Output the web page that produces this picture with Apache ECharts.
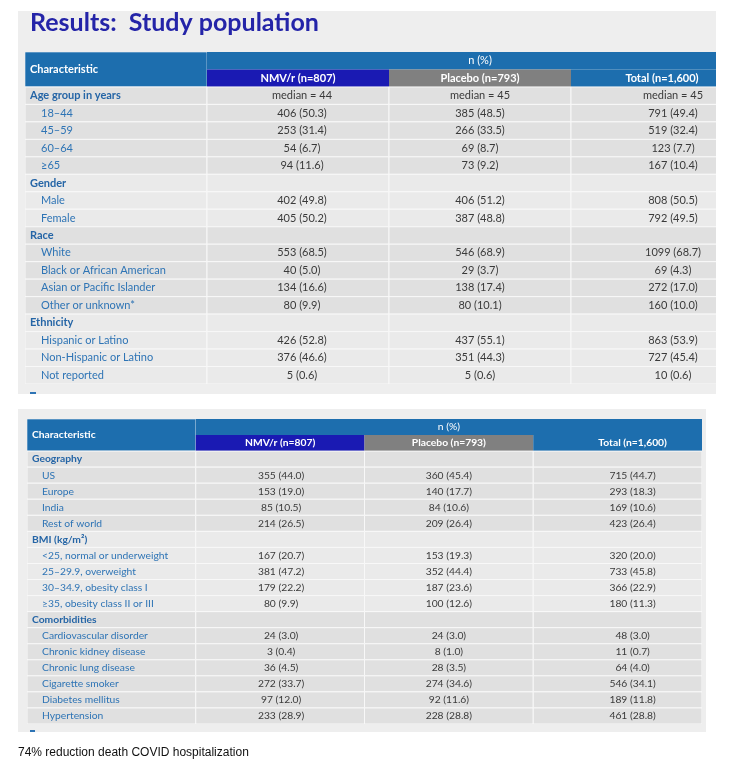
<!DOCTYPE html>
<html><head><meta charset="utf-8">
<script src="https://cdn.jsdelivr.net/npm/echarts@6/dist/echarts.min.js"></script>
<style>html,body{margin:0;padding:0;background:#fff}#c{width:729px;height:767px}</style>
</head><body><div id="c"></div><script>
// ---------- data ----------
const columnHeaders = ['NMV/r (n=807)', 'Placebo (n=793)', 'Total (n=1,600)'];
const groupHeader = 'n (%)';
const firstHeader = 'Characteristic';

const rows1 = ['Age group in years','18–44','45–59','60–64','≥65','Gender','Male','Female','Race','White','Black or African American','Asian or Pacific Islander','Other or unknown*','Ethnicity','Hispanic or Latino','Non-Hispanic or Latino','Not reported'];
const sections1 = ['Age group in years','Gender','Race','Ethnicity'];
const medianAge = [44, 45, 45];
const nmvN1 = [null,406,253,54,94,null,402,405,null,553,40,134,80,null,426,376,5];
const nmvP1 = [null,50.3,31.4,6.7,11.6,null,49.8,50.2,null,68.5,5.0,16.6,9.9,null,52.8,46.6,0.6];
const plaN1 = [null,385,266,69,73,null,406,387,null,546,29,138,80,null,437,351,5];
const plaP1 = [null,48.5,33.5,8.7,9.2,null,51.2,48.8,null,68.9,3.7,17.4,10.1,null,55.1,44.3,0.6];
const totN1 = [null,791,519,123,167,null,808,792,null,1099,69,272,160,null,863,727,10];
const totP1 = [null,49.4,32.4,7.7,10.4,null,50.5,49.5,null,68.7,4.3,17.0,10.0,null,53.9,45.4,0.6];

const rows2 = ['Geography','US','Europe','India','Rest of world','BMI (kg/m²)','<25, normal or underweight','25–29.9, overweight','30–34.9, obesity class I','≥35, obesity class II or III','Comorbidities','Cardiovascular disorder','Chronic kidney disease','Chronic lung disease','Cigarette smoker','Diabetes mellitus','Hypertension'];
const sections2 = ['Geography','BMI (kg/m²)','Comorbidities'];
const nmvN2 = [null,355,153,85,214,null,167,381,179,80,null,24,3,36,272,97,233];
const nmvP2 = [null,44.0,19.0,10.5,26.5,null,20.7,47.2,22.2,9.9,null,3.0,0.4,4.5,33.7,12.0,28.9];
const plaN2 = [null,360,140,84,209,null,153,352,187,100,null,24,8,28,274,92,228];
const plaP2 = [null,45.4,17.7,10.6,26.4,null,19.3,44.4,23.6,12.6,null,3.0,1.0,3.5,34.6,11.6,28.8];
const totN2 = [null,715,293,169,423,null,320,733,366,180,null,48,11,64,546,189,461];
const totP2 = [null,44.7,18.3,10.6,26.4,null,20.0,45.8,22.9,11.3,null,3.0,0.7,4.0,34.1,11.8,28.8];

const titleText = 'Results:  Study population';
const footerText = '74% reduction death COVID hospitalization';

// ---------- styles ----------
const HBLUE = '#1d6eae', DBLUE = '#1a1ab3', GRAY = '#808080';
const SHADES = ['#e0e0e0', '#eaeaea'];
const FONT = 'Lato';

function fmt(n, p) { return n == null ? '' : n + ' (' + p.toFixed(1) + ')'; }

function buildCells(rows, sections, cols, opt) {
  const cells = [];
  cells.push({c:0, r:0, cs:1, rs:2, fill:HBLUE, stroke:'rgba(255,255,255,0.55)', text:firstHeader, align:'left', dx:opt.lx, bold:true, color:'#fff', size:opt.fs});
  cells.push({c:1, r:0, cs:3, rs:1, fill:HBLUE, text:groupHeader, align:'center', bold:false, color:'#fff', size:opt.fs});
  const hf = [DBLUE, GRAY, HBLUE];
  columnHeaders.forEach((h, k) => cells.push({c:k+1, r:1, cs:1, rs:1, fill:hf[k], text:h, align:'center', bold:true, color:'#fff', size:opt.fs, tdx: k===2 ? opt.totHdx : 0}));
  let sec = -1;
  rows.forEach((lab, i) => {
    const isSec = sections.indexOf(lab) >= 0;
    if (isSec) sec++;
    const fill = SHADES[sec % 2];
    const r = i + 2;
    cells.push({c:0, r, cs:1, rs:1, fill, stroke:'#f8f8f8', text:lab, align:'left', dx: isSec ? opt.lx : opt.sx, bold:isSec, color: isSec ? '#2565a6' : '#2e74b5', size:opt.fs});
    cols.forEach((col, k) => {
      let t = fmt(col[0][i], col[1][i]);
      if (i === 0 && opt.median) t = 'median = ' + opt.median[k];
      cells.push({c:k+1, r, cs:1, rs:1, fill, stroke:'#f8f8f8', text:t, align:'center', color:'#3a3a3a', size:opt.fs, tdx: k===2 ? opt.totDx : (k===0 ? opt.nmvDx : 0)});
    });
  });
  return cells;
}

const cells1 = buildCells(rows1, sections1, [[nmvN1,nmvP1],[plaN1,plaP1],[totN1,totP1]], {lx:5, sx:16, fs:11, median:medianAge, totHdx:0, totDx:11, nmvDx:4});
const cells2 = buildCells(rows2, sections2, [[nmvN2,nmvP2],[plaN2,plaP2],[totN2,totP2]], {lx:5, sx:15, fs:10.3, totHdx:15, totDx:15, nmvDx:1});

function makeRender(cells) {
  return function (params, api) {
    const cell = cells[params.dataIndex];
    const p = api.coord([api.value(0), api.value(1)]);
    const sz = api.size([1, 1]);
    const x = p[0], y = p[1] - sz[1] / 2;
    const w = cell.cs * sz[0], h = cell.rs * sz[1];
    const children = [{
      type: 'rect', shape: {x, y, width: w, height: h},
      style: {fill: cell.fill, stroke: cell.stroke || null, lineWidth: cell.stroke ? 1 : 0}
    }];
    if (cell.text) {
      children.push({
        type: 'text',
        style: {
          text: cell.text,
          x: cell.align === 'left' ? x + cell.dx : x + w / 2 + (cell.tdx || 0),
          y: y + h / 2,
          align: cell.align, verticalAlign: 'middle',
          fill: cell.color,
          font: (cell.bold ? 'bold ' : '') + cell.size + 'px ' + FONT
        }
      });
    }
    return {type: 'group', children};
  };
}

const cats1 = ['hdr-a', 'hdr-b'].concat(rows1);
const cats2 = ['hdr-a', 'hdr-b'].concat(rows2);

const chart = echarts.init(document.getElementById('c'), null, {renderer: 'canvas'});
chart.setOption({
  backgroundColor: '#ffffff',
  animation: false,
  title: [
    {text: titleText, left: 30, top: 10, padding: 0, textStyle: {color: '#2424a8', fontSize: 25, fontWeight: 'bold', fontFamily: FONT}},
    {text: footerText, left: 18, top: 747, padding: 0, textStyle: {color: '#111', fontSize: 12, fontWeight: 'normal', fontFamily: 'Liberation Sans'}}
  ],
  graphic: [
    {type: 'rect', z: -10, shape: {x: 18, y: 11, width: 698, height: 383}, style: {fill: '#eeeeee'}},
    {type: 'rect', z: -10, shape: {x: 18, y: 409, width: 688, height: 323}, style: {fill: '#eeeeee'}},
    {type: 'rect', z: -5, shape: {x: 30, y: 392, width: 6, height: 2}, style: {fill: '#2e74b5'}},
    {type: 'rect', z: -5, shape: {x: 30, y: 730, width: 5, height: 2}, style: {fill: '#2e74b5'}}
  ],
  grid: [
    {left: 25, top: 52, width: 691, height: 332},
    {left: 27, top: 419, width: 675, height: 305}
  ],
  xAxis: [
    {gridIndex: 0, type: 'value', min: 0, max: 691 / 182, show: false},
    {gridIndex: 1, type: 'value', min: 0, max: 4, show: false}
  ],
  yAxis: [
    {gridIndex: 0, type: 'category', data: cats1, inverse: true, show: false},
    {gridIndex: 1, type: 'category', data: cats2, inverse: true, show: false}
  ],
  series: [
    {type: 'custom', xAxisIndex: 0, yAxisIndex: 0, clip: true, renderItem: makeRender(cells1),
     encode: {x: 0, y: 1}, data: cells1.map(c => [c.c, c.r, c.cs, c.rs])},
    {type: 'custom', xAxisIndex: 1, yAxisIndex: 1, clip: true, renderItem: makeRender(cells2),
     encode: {x: 0, y: 1}, data: cells2.map(c => [c.c, c.r, c.cs, c.rs])}
  ]
});
</script></body></html>
